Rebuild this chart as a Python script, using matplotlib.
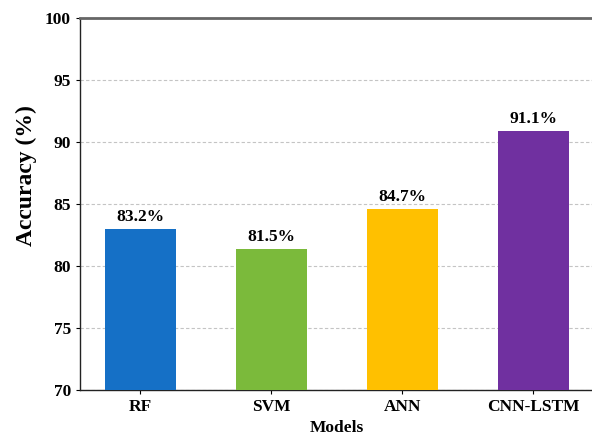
import matplotlib
matplotlib.use("Agg")
import matplotlib.pyplot as plt

models = ["RF", "SVM", "ANN", "CNN-LSTM"]
bar_heights = [83.0, 81.4, 84.6, 90.9]
value_labels = ["83.2%", "81.5%", "84.7%", "91.1%"]
colors = ["#1570c6", "#7bba3b", "#ffc000", "#7030a0"]
yticks = [70, 75, 80, 85, 90, 95, 100]

plt.rcParams['font.family'] = ['Liberation Serif', 'DejaVu Serif']
plt.rcParams['font.weight'] = 'bold'

fig = plt.figure(figsize=(5.92, 4.36), dpi=100)
ax = fig.add_axes([0.135, 0.105, 0.868, 0.853])

x = list(range(len(models)))
ax.bar(x, bar_heights, width=0.54, color=colors, zorder=3)
for xi, h, lab in zip(x, bar_heights, value_labels):
    ax.text(xi, h + 0.35, lab, ha='center', va='bottom', fontsize=12.5, fontweight='bold', zorder=4)

ax.set_xlim(-0.46, 3.46)
ax.set_ylim(70, 100)
ax.set_yticks(yticks)
ax.set_xticks(x)
ax.set_xticklabels(models)
ax.tick_params(axis='both', labelsize=12.5, length=3, width=0.8, direction='out')
for lab in ax.get_xticklabels() + ax.get_yticklabels():
    lab.set_fontweight('bold')

ax.yaxis.grid(True, linestyle=(0, (3, 2)), color='#c4c4c4', linewidth=0.8, zorder=0)
ax.set_axisbelow(True)

ax.spines['top'].set_color('#666666')
ax.spines['top'].set_linewidth(2.0)
ax.spines['left'].set_color('#222222')
ax.spines['left'].set_linewidth(1.0)
ax.spines['bottom'].set_color('#222222')
ax.spines['bottom'].set_linewidth(1.0)
ax.spines['right'].set_visible(False)

ax.set_ylabel("Accuracy (%)", fontsize=17, fontweight='bold')
ax.yaxis.set_label_coords(-0.083, 0.578)
ax.set_xlabel("Models", fontsize=12.5, fontweight='bold', labelpad=3.5)

fig.savefig("out.png", dpi=100)
